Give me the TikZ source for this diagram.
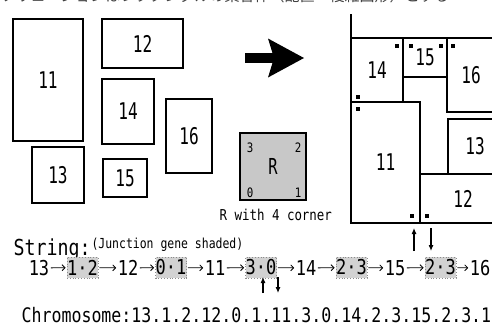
\documentclass[tikz,border=0pt]{standalone}
\usepackage{fontspec}
\usetikzlibrary{arrows.meta}
\newfontfamily\gothic[FakeStretch=0.83]{DejaVu Sans Mono}
\newfontfamily\gothicn[FakeStretch=0.7]{DejaVu Sans Mono}
\newfontfamily\jpfont{Noto Sans CJK JP}
\definecolor{cshade}{HTML}{D2D2D2}
\definecolor{cdot}{HTML}{8C8C8C}
\definecolor{cgreyR}{HTML}{C8C8C8}
\tikzset{
  every picture/.style={line width=1.1pt},
  blk/.style={draw, rectangle, inner sep=0pt, font=\gothicn\fontsize{23}{23}\selectfont},
  cmark/.style={fill, rectangle, inner sep=0pt, minimum size=3.5pt},
  tok/.style={inner sep=0pt, font=\gothic\fontsize{20.5}{20}\selectfont},
  gene/.style={tok, fill=cshade, draw=cdot, dotted, line width=0.8pt, minimum width=31pt, minimum height=21pt},
  link/.style={-{Straight Barb[length=3pt,width=6pt]}, line width=0.8pt, shorten <=1pt, shorten >=1pt},
  ptr/.style={-{Latex[length=6pt,width=5pt]}, line width=1.1pt},
  bigarr/.style={-{Stealth[length=36pt,width=39pt,inset=6pt,line width=0pt]}, line width=10pt},
  corner/.style={inner sep=0pt, font=\gothic\fontsize{13}{13}\selectfont},
  caption/.style={anchor=base west, inner sep=0pt},
}

\begin{document}
\begin{tikzpicture}[x=1pt, y=-1pt]
  \useasboundingbox (0,0) rectangle (492,327);
  \clip (0,0) rectangle (492,327);
  % cut-off title line
  \node[caption, font=\jpfont\fontsize{15}{15}\selectfont, text=black!75] (jp) at (0,1.5) {ソリューションはレクタングルの集合体（配置・複雑図形）とする};
  % loose rectangles
  \node[blk, minimum width=70pt, minimum height=122pt] (b11) at (48,80) {11};
  \node[blk, minimum width=81pt, minimum height=49pt] (b12) at (142.5,43.5) {12};
  \node[blk, minimum width=52pt, minimum height=65pt] (b14) at (128,111.5) {14};
  \node[blk, minimum width=46pt, minimum height=74pt] (b16) at (189,136) {16};
  \node[blk, minimum width=52pt, minimum height=56pt] (b13) at (58,175) {13};
  \node[blk, minimum width=44pt, minimum height=38pt] (b15) at (125,178) {15};
  % big arrow
  \coordinate (a0) at (245,58);
  \coordinate (a1) at (304,58);
  \draw[bigarr] (a0) -- (a1);
  % rectangle with its corners
  \node[draw, fill=cgreyR, line width=1.5pt, minimum width=66pt, minimum height=67pt, font=\gothicn\fontsize{22}{22}\selectfont] (R) at (273,166.5) {R};
  \node[corner] (c3) at (250,148) {3};
  \node[corner] (c2) at (298,148) {2};
  \node[corner] (c0) at (250,193) {0};
  \node[corner] (c1) at (298,193) {1};
  \node[caption, font=\gothic\fontsize{15}{15}\selectfont] (rcap) at (219,220) {R with 4 corner};
  % packed layout
  \draw (351,14) -- (351,223);
  \node[blk, minimum width=52pt, minimum height=64pt] (r14) at (377,70) {14};
  \node[blk, minimum width=44pt, minimum height=39pt] (r15) at (425,57.5) {15};
  \node[blk, minimum width=48pt, minimum height=74pt] (r16) at (471,75) {16};
  \node[blk, minimum width=69pt, minimum height=121pt] (r11) at (385.5,162.5) {11};
  \node[blk, minimum width=54pt, minimum height=55pt] (r13) at (475,146.5) {13};
  \node[blk, minimum width=86pt, minimum height=49pt] (r12) at (463,198.5) {12};
  \draw[line width=2pt] (351,223) -- (500,223);
  \node[cmark] (m14a) at (397,46) {};
  \node[cmark] (m14b) at (358,97) {};
  \node[cmark] (m15a) at (411,46) {};
  \node[cmark] (m15b) at (441,46) {};
  \node[cmark] (m16a) at (453,46) {};
  \node[cmark] (m11a) at (358,109) {};
  \node[cmark] (m11b) at (412,216) {};
  \node[cmark] (m12a) at (427,216) {};
  \coordinate (u0) at (414,251);
  \coordinate (u1) at (414,228);
  \coordinate (d0) at (431,228);
  \coordinate (d1) at (431,251);
  \draw[ptr] (u0) -- (u1);
  \draw[ptr] (d0) -- (d1);
  % string
  \node[caption, font=\gothic\fontsize{22}{22}\selectfont] (str) at (13,255) {String:};
  \node[caption, font=\gothic\fontsize{13.8}{14}\selectfont] (note) at (91,248) {(Junction gene shaded)};
  \node[tok] (t13) at (39,268) {13};
  \node[gene] (g12) at (82.5,267.5) {1·2};
  \node[tok] (t12) at (128,268) {12};
  \node[gene] (g01) at (171,267.5) {0·1};
  \node[tok] (t11) at (215,268) {11};
  \node[gene] (g30) at (261,267.5) {3·0};
  \node[tok] (t14) at (306,268) {14};
  \node[gene] (g23a) at (351.5,267.5) {2·3};
  \node[tok] (t15) at (395,268) {15};
  \node[gene] (g23b) at (440.5,267.5) {2·3};
  \node[tok] (t16) at (480,268) {16};
  \draw[link] (t13) -- (g12);
  \draw[link] (g12) -- (t12);
  \draw[link] (t12) -- (g01);
  \draw[link] (g01) -- (t11);
  \draw[link] (t11) -- (g30);
  \draw[link] (g30) -- (t14);
  \draw[link] (t14) -- (g23a);
  \draw[link] (g23a) -- (t15);
  \draw[link] (t15) -- (g23b);
  \draw[link] (g23b) -- (t16);
  \coordinate (v0) at (263,293);
  \coordinate (v1) at (263,277);
  \coordinate (w0) at (278,277);
  \coordinate (w1) at (278,293);
  \draw[ptr] (v0) -- (v1);
  \draw[ptr] (w0) -- (w1);
  % chromosome
  \node[caption, font=\gothic\fontsize{20}{20}\selectfont] (chrom) at (21,322) {Chromosome:13.1.2.12.0.1.11.3.0.14.2.3.15.2.3.16};
\end{tikzpicture}
\end{document}
